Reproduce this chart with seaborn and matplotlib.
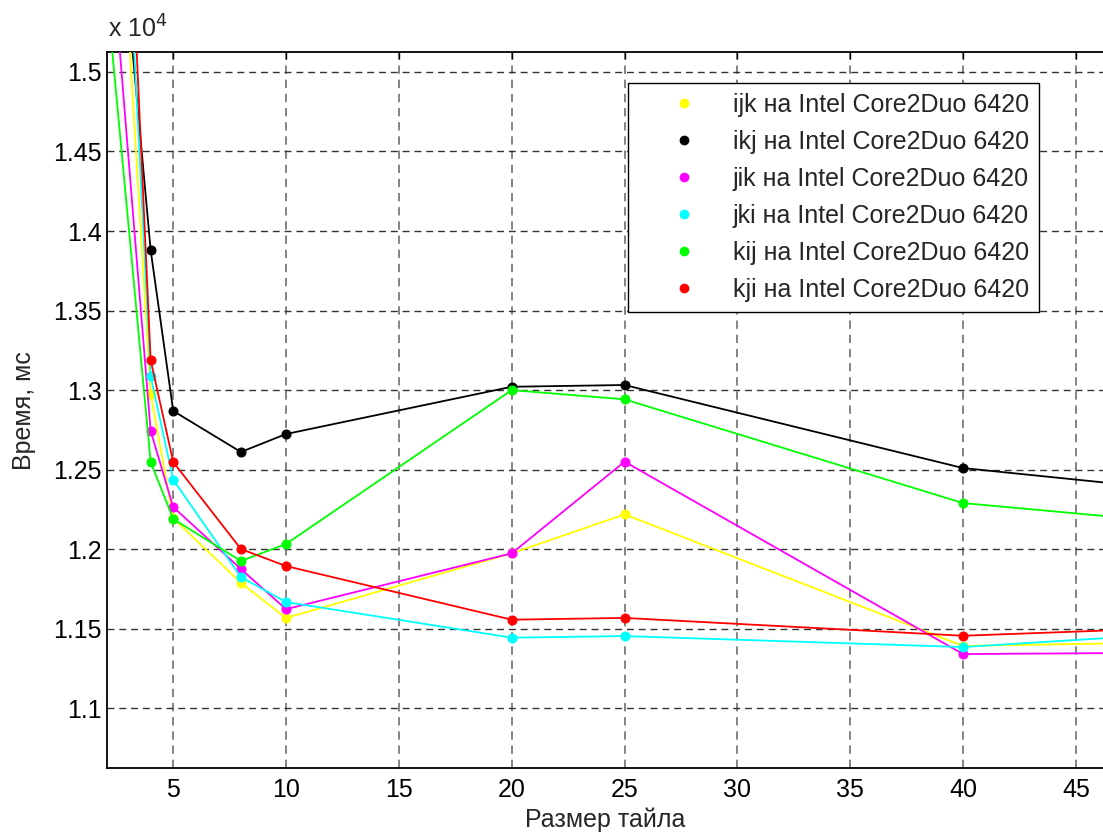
import numpy as np
import pandas as pd
import matplotlib
matplotlib.use("Agg")
import matplotlib.pyplot as plt
from matplotlib.lines import Line2D
from matplotlib.ticker import FuncFormatter, MultipleLocator
import seaborn as sns

# tile sizes and run times (ms)
tile = [2, 4, 5, 8, 10, 20, 25, 40, 50]
ijk = [17670, 12975, 12195, 11788, 11568, 11974, 12219, 11392, 11416]
ikj = [17000, 13880, 12869, 12611, 12724, 13021, 13032, 12510, 12365]
jik = [16240, 12743, 12265, 11875, 11623, 11974, 12550, 11341, 11350]
jki = [18710, 13089, 12436, 11825, 11668, 11444, 11454, 11385, 11474]
kij = [15580, 12548, 12190, 11926, 12033, 13000, 12942, 12290, 12160]
kji = [19460, 13189, 12548, 12001, 11894, 11557, 11568, 11456, 11508]

names = ["ijk", "ikj", "jik", "jki", "kij", "kji"]
series = [ijk, ikj, jik, jki, kij, kji]
colors = ["#ffff00", "#000000", "#ff00ff", "#00ffff", "#00ff00", "#ff0000"]
labels = [n + " на Intel Core2Duo 6420" for n in names]

sns.set_style("white")
plt.rcParams["font.family"] = ["Liberation Sans", "DejaVu Sans"]
fs = 18

fig = plt.figure(figsize=(11.03, 8.36), dpi=100)
ax = fig.add_axes([0.0973, 0.081, 0.9027, 0.8564])

for name, vals, c in zip(names, series, colors):
    df = pd.DataFrame({"tile": tile, "time": vals})
    sns.lineplot(data=df, x="tile", y="time", color=c, marker="o",
                 markersize=6.5, markeredgecolor=c, linewidth=1.3,
                 ax=ax, legend=False, zorder=3)

ax.set_xlim(2.08, 46.2)
ax.set_ylim(10623, 15123)
ax.xaxis.set_major_locator(MultipleLocator(5))
ax.yaxis.set_major_locator(MultipleLocator(500))
ax.yaxis.set_major_formatter(FuncFormatter(lambda v, p: "%g" % round(v / 1e4, 3)))

ax.grid(True, axis="y", linestyle=(0, (5, 3.5)), color="#333333", linewidth=1.0)
ax.grid(True, axis="x", linestyle=(0, (5, 3.5)), color="#6e6e6e", linewidth=1.2)
ax.set_axisbelow(True)

for s in ["left", "bottom", "top"]:
    ax.spines[s].set_color("black")
    ax.spines[s].set_linewidth(1.3)
ax.spines["right"].set_visible(False)
ax.tick_params(direction="in", length=5, width=1, top=True, right=False,
               labelsize=fs, colors="black")
ax.tick_params(axis="x", pad=7)
ax.tick_params(axis="y", pad=4)

ax.set_xlabel("Размер тайла", fontsize=fs, labelpad=4)
ax.set_ylabel("Время, мс", fontsize=fs, labelpad=12)
fig.text(108 / 1103, 1 - 38 / 836, r"x 10$^{4}$", fontsize=fs, ha="left", va="baseline")

handles = [Line2D([], [], color=c, marker="o", linestyle="none", markersize=6)
           for c in colors]
leg = ax.legend(handles, labels, loc="upper left",
                bbox_to_anchor=(628 / 1103, 1 - 83 / 836),
                bbox_transform=fig.transFigure, fontsize=fs,
                frameon=True, fancybox=False, framealpha=1, edgecolor="black",
                borderpad=0.4, handlelength=3.7, handletextpad=0.1,
                labelspacing=0.52, borderaxespad=0)
leg.get_frame().set_linewidth(1.0)

plt.savefig("out.png", dpi=100)
